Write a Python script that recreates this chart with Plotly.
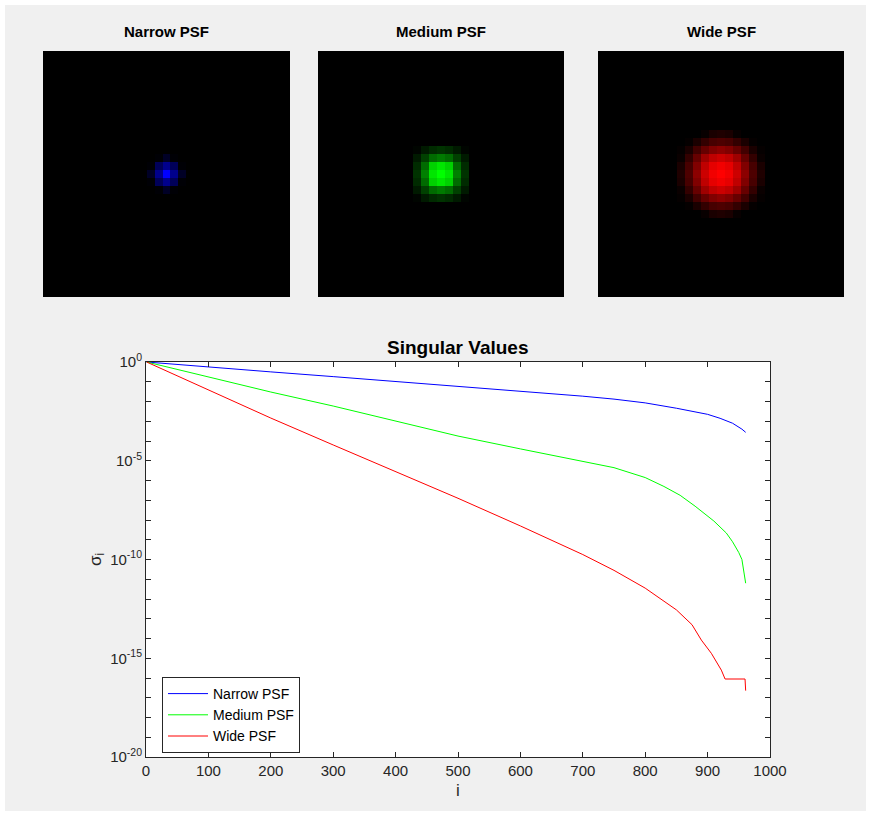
import numpy as np
import plotly.graph_objects as go

# figure sits at the top-left of the 871x816 page, leaving a thin white rim
W, H = 866, 811
RIM = 5

# ---- PSF images: 31x31 grids, non-zero centre patches (row-major) ----
GRID = 31
narrow_patch = [
    [0.00, 0.02, 0.15, 0.02, 0.00],
    [0.02, 0.35, 0.55, 0.35, 0.02],
    [0.15, 0.55, 1.00, 0.55, 0.15],
    [0.02, 0.35, 0.55, 0.35, 0.02],
    [0.00, 0.02, 0.15, 0.02, 0.00],
]
medium_patch = [
    [0.02, 0.10, 0.17, 0.20, 0.17, 0.10, 0.02],
    [0.10, 0.25, 0.42, 0.48, 0.42, 0.25, 0.10],
    [0.17, 0.42, 0.82, 0.90, 0.82, 0.42, 0.17],
    [0.20, 0.50, 0.90, 1.00, 0.90, 0.50, 0.20],
    [0.17, 0.42, 0.82, 0.90, 0.82, 0.42, 0.17],
    [0.10, 0.25, 0.42, 0.48, 0.42, 0.25, 0.10],
    [0.02, 0.10, 0.17, 0.20, 0.17, 0.10, 0.02],
]
wide_patch = [
    [0.00, 0.00, 0.00, 0.03, 0.10, 0.12, 0.10, 0.03, 0.00, 0.00, 0.00],
    [0.00, 0.02, 0.10, 0.20, 0.28, 0.30, 0.28, 0.20, 0.10, 0.02, 0.00],
    [0.02, 0.10, 0.26, 0.40, 0.50, 0.55, 0.50, 0.40, 0.26, 0.10, 0.02],
    [0.04, 0.20, 0.40, 0.62, 0.75, 0.80, 0.75, 0.62, 0.40, 0.20, 0.04],
    [0.10, 0.28, 0.50, 0.75, 0.90, 0.95, 0.90, 0.75, 0.50, 0.28, 0.10],
    [0.12, 0.30, 0.55, 0.80, 0.95, 1.00, 0.95, 0.80, 0.55, 0.30, 0.12],
    [0.10, 0.28, 0.50, 0.75, 0.90, 0.95, 0.90, 0.75, 0.50, 0.28, 0.10],
    [0.04, 0.20, 0.40, 0.62, 0.75, 0.80, 0.75, 0.62, 0.40, 0.20, 0.04],
    [0.02, 0.10, 0.26, 0.40, 0.50, 0.55, 0.50, 0.40, 0.26, 0.10, 0.02],
    [0.00, 0.02, 0.10, 0.20, 0.28, 0.30, 0.28, 0.20, 0.10, 0.02, 0.00],
    [0.00, 0.00, 0.00, 0.03, 0.10, 0.12, 0.10, 0.03, 0.00, 0.00, 0.00],
]
psf_titles = ["Narrow PSF", "Medium PSF", "Wide PSF"]
psf_colors = ["#0000ff", "#00ff00", "#ff0000"]

# ---- singular values sigma_i ----
narrow_i = [1, 50, 100, 200, 300, 400, 500, 600, 700, 750, 800, 850, 880, 900, 920, 940, 955, 961]
narrow_s = [1.0, 0.741, 0.55, 0.316, 0.182, 0.105, 0.0603, 0.0339, 0.0186, 0.0132,
            0.00851, 0.00457, 0.00302, 0.00224, 0.00141, 7.94e-4, 3.98e-4, 2.75e-4]

medium_i = [1, 50, 100, 200, 300, 400, 500, 600, 700, 750, 800, 830, 856, 880, 910, 930, 940, 950, 955, 961]
medium_s = [1.0, 0.417, 0.174, 0.0302, 5.89e-3, 1.02e-3, 1.78e-4, 3.98e-5, 9.77e-6, 4.47e-6,
            1.41e-6, 5.0e-7, 1.78e-7, 5.0e-8, 8.9e-9, 2.19e-9, 7.9e-10, 2.24e-10, 1.0e-10, 6.3e-12]

wide_i = [1, 50, 100, 200, 300, 400, 500, 600, 700, 750, 800, 850, 875, 890, 906, 922, 928, 960, 961]
wide_s = [1.0, 0.2, 0.0389, 1.45e-3, 6.3e-5, 2.82e-6, 1.26e-7, 5.0e-9, 1.78e-10, 2.82e-11,
          3.55e-12, 2.82e-13, 5.0e-14, 8.3e-15, 1.78e-15, 2.51e-16, 8.9e-17, 8.9e-17, 2.29e-17]

x_ticks = [0, 100, 200, 300, 400, 500, 600, 700, 800, 900, 1000]
y_decades = list(range(-20, 1))
y_labels = {0: "10<sup>0</sup>", -5: "10<sup>-5</sup>", -10: "10<sup>-10</sup>",
            -15: "10<sup>-15</sup>", -20: "10<sup>-20</sup>"}

FONT = "Liberation Sans, Arial, sans-serif"
AX = "#262626"


def px_x(p):
    return p / W


def px_y(p):
    return 1 - p / H


def place(patch):
    grid = np.zeros((GRID, GRID))
    p = np.array(patch)
    n = p.shape[0]
    c = GRID // 2
    grid[c - n // 2:c + n // 2 + 1, c - n // 2:c + n // 2 + 1] = p
    return grid


fig = go.Figure()

# image panels
panels = [(43, 290), (318, 564), (598, 844)]
patches = [narrow_patch, medium_patch, wide_patch]
for k, ((x0, x1), patch, col) in enumerate(zip(panels, patches, psf_colors), start=1):
    fig.add_trace(go.Heatmap(
        z=place(patch), colorscale=[[0, "#000000"], [1, col]], zmin=0, zmax=1,
        showscale=False, hoverinfo="skip", xaxis=f"x{k}", yaxis=f"y{k}"))
    fig.layout[f"xaxis{k}"] = dict(domain=[px_x(x0), px_x(x1)], range=[-0.5, GRID - 0.5],
                                   showticklabels=False, showgrid=False, zeroline=False,
                                   ticks="", anchor=f"y{k}", automargin=False)
    fig.layout[f"yaxis{k}"] = dict(domain=[px_y(297), px_y(51)], range=[GRID - 0.5, -0.5],
                                   showticklabels=False, showgrid=False, zeroline=False,
                                   ticks="", anchor=f"x{k}", automargin=False)
    fig.add_annotation(text=f"<b>{psf_titles[k-1]}</b>", x=px_x((x0 + x1) / 2), y=px_y(31),
                       xref="paper", yref="paper", showarrow=False,
                       xanchor="center", yanchor="middle",
                       font=dict(family=FONT, size=15, color="#000000"))

# singular value curves
for name, xi, s, col in [("Narrow PSF", narrow_i, narrow_s, "#0000ff"),
                         ("Medium PSF", medium_i, medium_s, "#00ff00"),
                         ("Wide PSF", wide_i, wide_s, "#ff0000")]:
    fig.add_trace(go.Scatter(x=xi, y=s, mode="lines", name=name,
                             line=dict(color=col, width=1), xaxis="x4", yaxis="y4"))

fig.layout.xaxis4 = dict(domain=[px_x(146), px_x(770)], range=[0, 1000], anchor="y4",
                         tickvals=x_ticks, ticks="inside", ticklen=5, tickcolor=AX,
                         showline=True, linecolor=AX, linewidth=1, mirror="ticks",
                         showgrid=False, zeroline=False, automargin=False,
                         tickfont=dict(family=FONT, size=15, color=AX),
                         title=dict(text="i", font=dict(family=FONT, size=17, color=AX),
                                    standoff=6))
fig.layout.yaxis4 = dict(domain=[px_y(757), px_y(362)], type="log", range=[-20, 0],
                         anchor="x4", tickvals=[10.0 ** d for d in y_decades],
                         ticktext=[y_labels.get(d, "") for d in y_decades],
                         ticks="inside", ticklen=5, tickcolor=AX,
                         showline=True, linecolor=AX, linewidth=1, mirror="ticks",
                         showgrid=False, zeroline=False, automargin=False,
                         tickfont=dict(family=FONT, size=15, color=AX),
                         title=dict(text="σ<sub>i</sub>", font=dict(family=FONT, size=17, color=AX),
                                    standoff=4))

fig.add_annotation(text="<b>Singular Values</b>", x=px_x(458), y=px_y(347),
                   xref="paper", yref="paper", showarrow=False,
                   xanchor="center", yanchor="middle",
                   font=dict(family=FONT, size=19, color="#000000"))

# thin white rim along the left and top edges
for x0, x1, y0, y1 in [(0, px_x(RIM), 0, 1), (0, 1, px_y(RIM), 1)]:
    fig.add_shape(type="rect", xref="paper", yref="paper", x0=x0, x1=x1, y0=y0, y1=y1,
                  fillcolor="#ffffff", line=dict(width=0), layer="above")

fig.update_layout(
    width=W, height=H, margin=dict(l=0, r=0, t=0, b=0, autoexpand=False),
    paper_bgcolor="#f0f0f0", plot_bgcolor="#ffffff",
    showlegend=True,
    legend=dict(x=px_x(162), y=px_y(677), xanchor="left", yanchor="top",
                bgcolor="#ffffff", bordercolor="#262626", borderwidth=1,
                font=dict(family=FONT, size=14, color="#000000"),
                tracegroupgap=0, itemwidth=40),
)

fig.write_html("out.html")
